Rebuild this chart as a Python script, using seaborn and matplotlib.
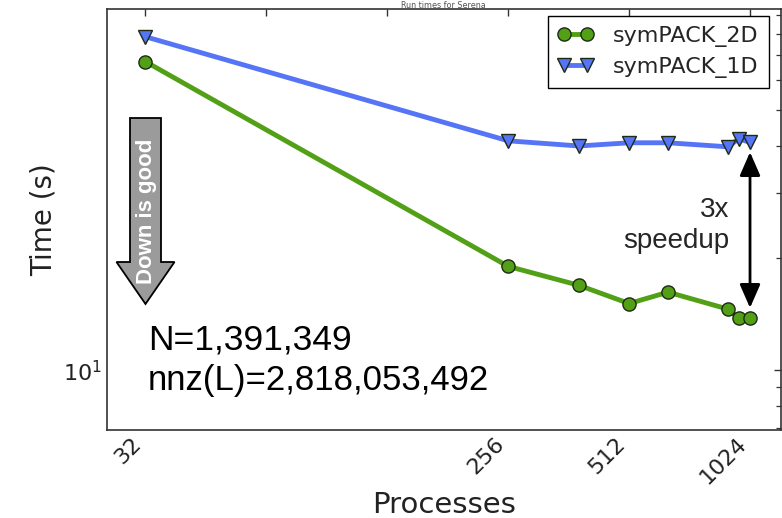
import numpy as np
import pandas as pd
import matplotlib
matplotlib.use("Agg")
import matplotlib.pyplot as plt
import seaborn as sns
from matplotlib.ticker import FixedLocator, FixedFormatter, NullLocator, NullFormatter, LogLocator
from matplotlib.patches import Polygon
from matplotlib.lines import Line2D

# ---------------- data ----------------
series_names = ["symPACK_2D", "symPACK_1D"]
processes_2d = [32, 256, 384, 512, 640, 900, 961, 1024]
time_2d = [67.4, 19.0, 16.9, 15.1, 16.2, 14.6, 13.8, 13.8]
processes_1d = [32, 256, 384, 512, 640, 900, 961, 1024]
time_1d = [78.6, 41.3, 40.0, 40.8, 40.8, 39.8, 41.8, 40.9]
x_ticks = [32, 64, 128, 256, 512, 1024]
x_tick_labels = ["32", "", "", "256", "512", "1024"]
title_text = "Run times for Serena"
x_label = "Processes"
y_label = "Time (s)"
info_lines = ["N=1,391,349", "nnz(L)=2,818,053,492"]
speedup_lines = ["3x", "speedup"]
arrow_text = "Down is good"

colors = {"symPACK_2D": "#52a016", "symPACK_1D": "#5575f6"}
markers = {"symPACK_2D": "o", "symPACK_1D": "v"}

df = pd.concat([
    pd.DataFrame({"Processes": processes_2d, "Time": time_2d, "Solver": series_names[0]}),
    pd.DataFrame({"Processes": processes_1d, "Time": time_1d, "Solver": series_names[1]}),
], ignore_index=True)

# ---------------- figure ----------------
W, H = 782, 518
sns.set_style("white")
plt.rcParams["font.family"] = ["DejaVu Sans"]
fig = plt.figure(figsize=(W / 100, H / 100), dpi=100)

def fx(x):
    return x / W

def fy(y):
    return 1 - y / H

ax_left, ax_right, ax_top, ax_bottom = 106.5, 781, 9, 429.5
ax = fig.add_axes([fx(ax_left), fy(ax_bottom), fx(ax_right - ax_left), (ax_bottom - ax_top) / H])

sns.lineplot(data=df, x="Processes", y="Time", hue="Solver", style="Solver",
             hue_order=series_names, style_order=series_names,
             palette=colors, markers=markers, dashes=False, legend=False,
             linewidth=3.5, markersize=9.5, markeredgecolor="#1e2a14",
             markeredgewidth=1.0, ax=ax)

ax.set_xscale("log", base=2)
ax.set_yscale("log")
ax.set_xlim(25.6, 1223)
ax.set_ylim(6.93, 93.3)

ax.xaxis.set_major_locator(FixedLocator(x_ticks))
ax.xaxis.set_major_formatter(FixedFormatter(x_tick_labels))
ax.xaxis.set_minor_locator(NullLocator())
ax.yaxis.set_minor_locator(LogLocator(base=10, subs=np.arange(2, 10)))
ax.yaxis.set_minor_formatter(NullFormatter())

for lab in ax.get_xticklabels():
    lab.set_rotation(45)
    lab.set_ha("right")
    lab.set_rotation_mode("default")

ax.tick_params(axis="both", which="both", direction="in", top=True, right=True,
               color="#333333", labelsize=16, labelcolor="#222222")
ax.tick_params(axis="both", which="major", length=5, width=1)
ax.tick_params(axis="both", which="minor", length=3.5, width=0.9)
ax.tick_params(axis="x", pad=3)
for s in ax.spines.values():
    s.set_color("#333333")
    s.set_linewidth(1.2)
    s.set_visible(True)

ax.set_xlabel(x_label, fontsize=21, color="#222222", labelpad=2)
ax.set_ylabel(y_label, fontsize=20, color="#222222", labelpad=4)

# legend
handles = [Line2D([0], [0], color=colors[n], marker=markers[n], linewidth=3.5,
                  markersize=9.5, markeredgecolor="#1e2a14", markeredgewidth=1.0)
           for n in series_names]
leg = ax.legend(handles, series_names, loc="upper right", bbox_to_anchor=(0.982, 0.983),
                numpoints=2, fontsize=16, frameon=True, fancybox=False, framealpha=1,
                edgecolor="black", handlelength=1.6, handletextpad=0.9,
                borderpad=0.45, labelspacing=0.45, borderaxespad=0)
leg.get_frame().set_linewidth(1.0)

# title (cut off in the source image; kept small so it fits above the axes)
fig.text(fx((ax_left + ax_right) / 2), fy(0.5), title_text, ha="center", va="top",
         fontsize=5.8, color="#555555")

# annotation texts
arial = ["Liberation Sans", "DejaVu Sans"]
fig.text(fx(148), fy(350), info_lines[0], fontsize=25.5, family=arial, va="baseline", color="black")
fig.text(fx(148), fy(390), info_lines[1], fontsize=25, family=arial, va="baseline", color="black")
fig.text(fx(729), fy(217), speedup_lines[0], fontsize=20, family=arial, va="baseline", ha="right")
fig.text(fx(729), fy(248), speedup_lines[1], fontsize=20, family=arial, va="baseline", ha="right")

# double-headed arrow (speedup)
ax.annotate("", xy=(1024, 14.7), xytext=(1024, 38.5),
            arrowprops=dict(arrowstyle="<|-|>,head_width=0.35,head_length=0.8",
                            color="black", lw=2, shrinkA=0, shrinkB=0,
                            mutation_scale=18))

# "Down is good" block arrow
cx, top, body_w, head_w, head_top, tip = 145.5, 118, 31, 58, 262, 304
verts = [(fx(cx - body_w / 2), fy(top)), (fx(cx + body_w / 2), fy(top)),
         (fx(cx + body_w / 2), fy(head_top)), (fx(cx + head_w / 2), fy(head_top)),
         (fx(cx), fy(tip)), (fx(cx - head_w / 2), fy(head_top)),
         (fx(cx - body_w / 2), fy(head_top))]
fig.patches.append(Polygon(verts, closed=True, transform=fig.transFigure,
                           facecolor="#9b9b9b", edgecolor="black", linewidth=1.3, zorder=5))
fig.text(fx(cx + 1), fy(211), arrow_text, rotation=90, ha="center", va="center",
         fontsize=16, fontweight="bold", family=arial, color="white", zorder=6)

fig.savefig("out.png", dpi=100)
